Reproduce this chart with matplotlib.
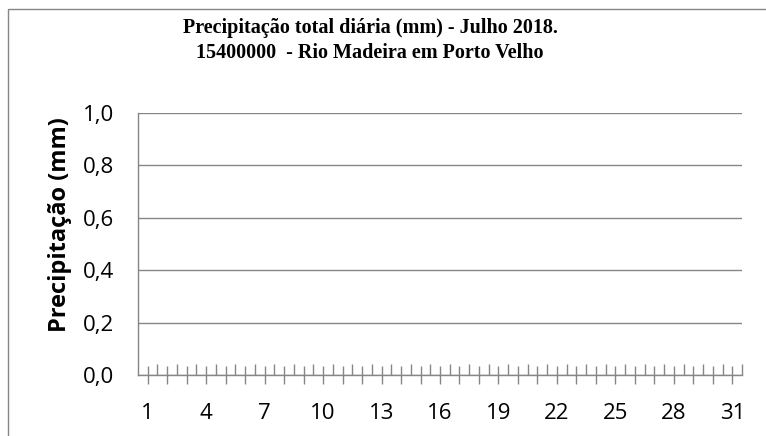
import matplotlib.pyplot as plt
from matplotlib.patches import Rectangle

days = list(range(1, 32))
precip = [0.0, 0.0, 0.0, 0.0, 0.0, 0.0, 0.0, 0.0, 0.0, 0.0,
          0.0, 0.0, 0.0, 0.0, 0.0, 0.0, 0.0, 0.0, 0.0, 0.0,
          0.0, 0.0, 0.0, 0.0, 0.0, 0.0, 0.0, 0.0, 0.0, 0.0, 0.0]
yticks = [0.0, 0.2, 0.4, 0.6, 0.8, 1.0]
title = 'Precipitação total diária (mm) - Julho 2018.\n15400000  - Rio Madeira em Porto Velho'

grey = '#868686'

fig = plt.figure(figsize=(7.66, 4.36), dpi=100)
ax = fig.add_axes([138/766, 1 - 375/436, 604/766, 262/436])

ax.bar(days, precip, width=0.6, color='#4f81bd', linewidth=0)

ax.set_xlim(0.5, 31.5)
ax.set_ylim(0, 1.0)
ax.set_yticks(yticks)
ax.set_yticklabels([('%.1f' % v).replace('.', ',') for v in yticks])
ax.set_xticks(days)
ax.set_xticklabels([str(d) if (d - 1) % 3 == 0 else '' for d in days])
ax.set_xticks([d + 0.5 for d in days], minor=True)

ax.grid(axis='y', color=grey, linewidth=1.0)
ax.set_axisbelow(True)
for s in ['top', 'right']:
    ax.spines[s].set_visible(False)
for s in ['left', 'bottom']:
    ax.spines[s].set_color(grey)
    ax.spines[s].set_linewidth(1.0)

ax.tick_params(axis='y', length=0, pad=17, labelsize=16)
ax.tick_params(axis='x', which='major', direction='inout', length=13,
               width=1.0, color=grey, pad=14, labelsize=16)
ax.tick_params(axis='x', which='minor', direction='in', length=8,
               width=1.0, color=grey)
for lbl in ax.get_xticklabels() + ax.get_yticklabels():
    lbl.set_family('Open Sans')

ax.set_ylabel('Precipitação (mm)', family='Open Sans', fontweight='bold',
              fontsize=17)
ax.yaxis.set_label_coords(-66/604, 0.5725)

fig.text(370/766, 1 - 18/436, title, ha='center', va='top',
         family='Liberation Serif', fontweight='bold', fontsize=14.5,
         linespacing=1.3)

fig.patches.append(Rectangle((8/766, -0.1), 1.2, 1 - 9/436 + 0.1,
                             transform=fig.transFigure, fill=False,
                             edgecolor=grey, linewidth=1.0))

plt.savefig('out.png')
